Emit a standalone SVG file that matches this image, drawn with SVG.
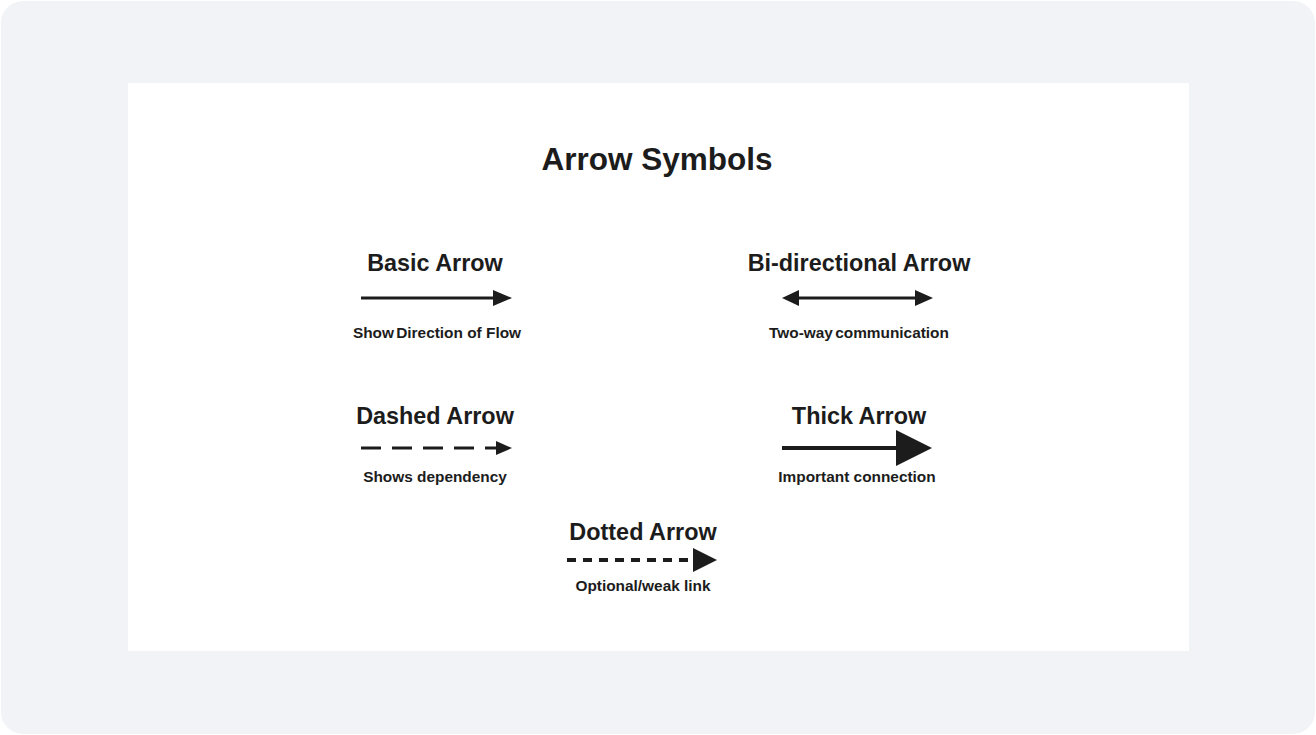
<svg xmlns="http://www.w3.org/2000/svg" width="1316" height="735" viewBox="0 0 1316 735">
<style>
.t{font-family:"Liberation Sans",Arial,sans-serif;font-weight:bold;fill:#1c1c1c;text-anchor:middle}
.h{font-size:23.4px}
.s{font-size:15.4px}
.ln{stroke:#1c1c1c;fill:none}
.hd{fill:#1c1c1c}
</style>
<rect x="1" y="1" width="1314" height="733" rx="22" fill="#f2f3f7"/>
<rect x="128" y="83" width="1061" height="568" fill="#ffffff"/>
<text class="t" x="657" y="170" font-size="31.5">Arrow Symbols</text>
<g id="basic">
<text class="t h" x="435" y="271">Basic Arrow</text>
<text class="t s" x="437" y="338"><tspan word-spacing="-2">Show Direction</tspan> of Flow</text>
</g>
<g id="bidir">
<text class="t h" x="859" y="271">Bi-directional Arrow</text>
<text class="t s" x="859" y="338" word-spacing="-2">Two-way communication</text>
</g>
<g id="dashed">
<text class="t h" x="435" y="424">Dashed Arrow</text>
<text class="t s" x="435" y="482">Shows dependency</text>
</g>
<g id="thick">
<text class="t h" x="859" y="424">Thick Arrow</text>
<text class="t s" x="857" y="482">Important connection</text>
</g>
<g id="dotted">
<text class="t h" x="643" y="540">Dotted Arrow</text>
<text class="t s" x="643" y="591">Optional/weak link</text>
</g>
<g id="connectors">
<line class="ln" x1="361" y1="298" x2="496" y2="298" stroke-width="3"/>
<polygon class="hd" points="493,290 512,298 493,306"/>
<line class="ln" x1="797" y1="298" x2="918" y2="298" stroke-width="3"/>
<polygon class="hd" points="782,298 799,290 799,306"/>
<polygon class="hd" points="915,290 933,298 915,306"/>
<line class="ln" x1="361" y1="448" x2="498" y2="448" stroke-width="3" stroke-dasharray="20,11"/>
<polygon class="hd" points="496,441 512,448 496,455"/>
<line class="ln" x1="782" y1="448" x2="898" y2="448" stroke-width="4"/>
<polygon class="hd" points="896,430 932,448 896,466"/>
<line class="ln" x1="567" y1="560" x2="695" y2="560" stroke-width="4" stroke-dasharray="9,7"/>
<polygon class="hd" points="693,548 717,560 693,572"/>
</g>
</svg>
